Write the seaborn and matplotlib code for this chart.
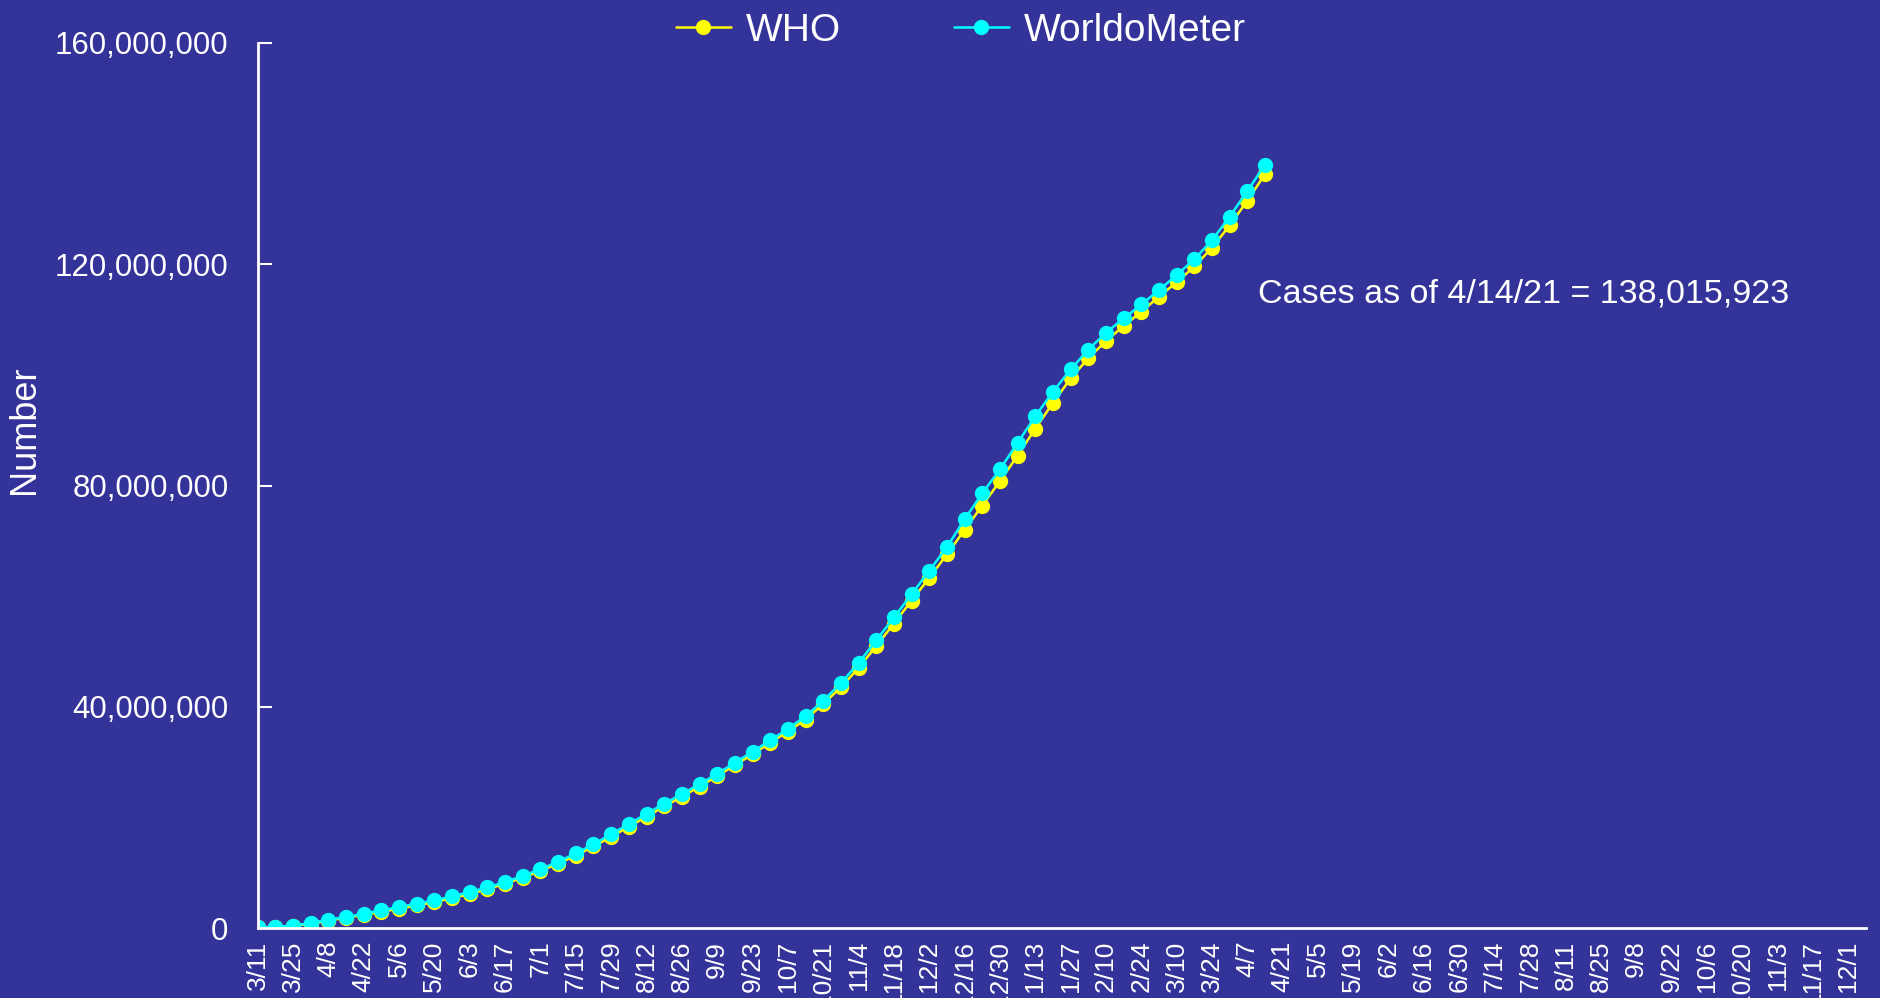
import pandas as pd
import matplotlib
matplotlib.use("Agg")
import matplotlib.pyplot as plt
import seaborn as sns
from matplotlib.ticker import FuncFormatter

sns.set_theme(style="white")
plt.rcParams['font.family'] = ['Liberation Sans', 'DejaVu Sans']

BG = '#333399'

# weekly cumulative cases (millions), 3/11/2020 .. 4/14/2021
who = [0.12, 0.19, 0.41, 0.82, 1.35, 1.91, 2.40, 2.95, 3.52, 4.10, 4.73, 5.40,
       6.20, 7.04, 8.04, 9.13, 10.36, 11.67, 13.12, 14.77, 16.52, 18.35, 20.16, 21.99,
       23.75, 25.60, 27.49, 29.44, 31.43, 33.50, 35.54, 37.71, 40.52, 43.54, 47.02, 51.00,
       55.06, 59.21, 63.31, 67.55, 71.99, 76.38, 80.81, 85.41, 90.30, 94.94, 99.37, 103.00,
       106.13, 108.82, 111.42, 114.14, 116.74, 119.60, 122.99, 127.03, 131.49, 136.29]
wm = [0.13, 0.22, 0.47, 0.94, 1.52, 2.00, 2.62, 3.22, 3.82, 4.43, 5.05, 5.73,
      6.53, 7.36, 8.35, 9.44, 10.67, 12.03, 13.50, 15.17, 16.98, 18.83, 20.66, 22.51,
      24.24, 26.03, 27.92, 29.88, 31.91, 33.93, 36.03, 38.31, 41.10, 44.30, 47.92, 52.03,
      56.16, 60.35, 64.61, 68.87, 73.91, 78.60, 82.93, 87.73, 92.52, 96.97, 100.98, 104.58,
      107.62, 110.21, 112.72, 115.33, 118.04, 120.92, 124.34, 128.62, 133.21, 138.02]

tick_labels = ['3/11', '3/25', '4/8', '4/22', '5/6', '5/20', '6/3', '6/17', '7/1', '7/15',
               '7/29', '8/12', '8/26', '9/9', '9/23', '10/7', '10/21', '11/4', '11/18', '12/2',
               '12/16', '12/30', '1/13', '1/27', '2/10', '2/24', '3/10', '3/24', '4/7', '4/21',
               '5/5', '5/19', '6/2', '6/16', '6/30', '7/14', '7/28', '8/11', '8/25', '9/8',
               '9/22', '10/6', '10/20', '11/3', '11/17', '12/1']

df = pd.DataFrame({'week': range(len(who)),
                   'WHO': [v * 1e6 for v in who],
                   'WorldoMeter': [v * 1e6 for v in wm]})

fig = plt.figure(figsize=(18.81, 9.98), dpi=100, facecolor=BG)
ax = fig.add_axes([0.137, 0.070, 0.855, 0.887])
ax.set_facecolor(BG)

sns.lineplot(data=df, x='week', y='WHO', ax=ax, color='#ffff00', marker='o',
             markersize=11, markeredgewidth=0, linewidth=1.8, label='WHO')
sns.lineplot(data=df, x='week', y='WorldoMeter', ax=ax, color='#00ffff', marker='o',
             markersize=11, markeredgewidth=0, linewidth=1.8, label='WorldoMeter')

ax.set_xlim(0, 91)
ax.set_ylim(0, 160e6)
ax.set_xticks(range(0, 2 * len(tick_labels), 2))
ax.set_xticklabels(tick_labels, rotation=90, color='white', fontsize=19)
ax.set_yticks([0, 40e6, 80e6, 120e6, 160e6])
ax.yaxis.set_major_formatter(FuncFormatter(lambda v, p: f'{v:,.0f}'))
ax.tick_params(axis='y', direction='in', length=10, width=1.5, color='white',
               labelcolor='white', labelsize=22.5, pad=21, left=True)
ax.tick_params(axis='x', length=0, pad=9)

ax.set_xlabel('')
ax.set_ylabel('Number', color='white', fontsize=26)
ax.yaxis.set_label_coords(-0.134, 0.563)

for s in ['top', 'right']:
    ax.spines[s].set_visible(False)
for s in ['left', 'bottom']:
    ax.spines[s].set_color('white')
    ax.spines[s].set_linewidth(2)

ax.text(56.6, 114.6e6, 'Cases as of 4/14/21 = 138,015,923', color='white',
        fontsize=24.5, ha='left', va='center')

leg = ax.legend(loc='center', bbox_to_anchor=(0.511, 0.969), bbox_transform=fig.transFigure,
                ncol=2, frameon=False, fontsize=28, columnspacing=2.9, handlelength=1.4,
                handletextpad=0.4)
for t in leg.get_texts():
    t.set_color('white')

fig.savefig('out.png', facecolor=BG)
